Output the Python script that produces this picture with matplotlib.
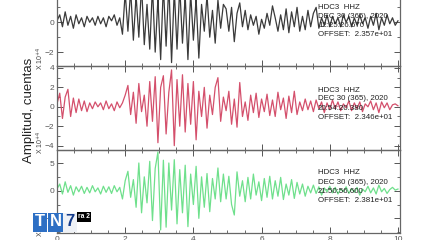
import numpy as np
import matplotlib
matplotlib.use("Agg")
import matplotlib.pyplot as plt
from matplotlib.ticker import MultipleLocator

plt.rcParams['font.family'] = ['Liberation Sans', 'DejaVu Sans']

# sample spacing of the read-off traces (s)
dt = 0.08

# amplitudes, x 10^4 counts
trace_a = [
    0.1, 0.5, -0.3, 0.7, -0.2, 0.4, -0.4, 0.5, -0.1, 0.3,
    -0.3, 0.4, 0.0, 0.3, -0.2, 0.4, -0.1, 0.3, -0.3, 0.4,
    0.1, 0.5, -0.2, 0.3, -0.8, 2.0, -0.6, 2.2, -1.2, 1.8,
    -1.0, 2.5, -1.5, 1.2, -1.8, 2.4, -2.0, 1.6, -2.5, 2.5,
    -1.6, 2.6, -2.7, 2.2, -1.8, 2.4, -1.4, 1.8, -2.5, 2.0,
    -1.2, 1.6, -2.4, 1.2, -0.6, 1.8, -1.0, 0.8, -1.4, 1.5,
    -0.4, 1.2, 0.9, -0.6, 1.0, -1.3, 0.6, 1.3, -0.3, 0.8,
    -0.5, 0.5, -0.2, 0.4, -0.8, 0.2, -0.4, 0.6, -0.2, 1.1,
    0.3, -0.6, 0.5, -0.5, 0.9, -0.7, 0.7, -0.3, 1.0, -0.6,
    0.4, -0.5, 0.8, -0.3, 0.6, 1.0, -0.4, 0.3, -0.2, 0.5,
    -0.3, 0.4, -0.1, 0.3, -0.3, 0.5, 0.0, 0.4, -0.3, 0.3,
    -0.2, 0.5, -0.1, 0.3, -0.4, 0.4, -0.2, 0.6, -0.5, 0.3,
    -0.2, 0.5, -0.1, 0.3, -0.2, 0.1,
]
trace_b = [
    0.3, 1.4, -1.2, 1.0, 1.8, -1.0, 0.9, -0.6, 0.8, -0.4,
    0.6, -0.5, 0.4, -0.2, 0.5, 0.0, 0.4, -0.3, 0.6, -0.2,
    0.3, -0.4, 0.5, -0.1, 0.4, 1.2, 2.2, -0.8, 1.5, -1.7,
    2.4, -0.5, 1.2, -2.0, 2.6, -1.5, 3.1, -3.7, 2.0, 3.2,
    -2.8, 1.5, 3.8, -4.0, 2.8, -2.0, 3.3, -2.6, 2.4, -1.8,
    2.6, -3.4, 1.6, -1.0, 2.0, -2.2, 1.2, -0.8, 2.0, 3.0,
    -1.5, 1.0, -0.4, 1.6, -1.8, 0.8, -2.1, 2.5, -1.0, 0.5,
    -1.4, 1.2, -0.6, 1.4, -1.1, 0.8, -0.5, 1.3, -0.9, 0.7,
    -1.0, 1.5, -0.3, 0.9, -1.2, 1.1, -0.6, 1.6, -0.8, 0.5,
    -0.4, 0.8, -0.3, 0.6, -0.5, 0.7, -0.2, 0.5, -0.6, 0.4,
    -0.3, 0.7, -0.2, 0.5, -0.4, 0.3, -0.1, 0.6, -0.4, 0.4,
    -0.2, 0.5, -0.5, 0.3, 0.0, 0.6, -0.3, 0.4, -0.6, 0.5,
    -0.1, 0.4, -0.3, 0.2, 0.3, 0.1,
]
trace_c = [
    0.3, 1.2, -0.6, 1.6, -0.3, 0.9, -0.8, 0.7, -0.2, 0.8,
    -0.5, 0.6, -0.4, 0.9, -0.2, 0.5, -0.6, 0.8, -0.3, 0.7,
    -0.5, 0.9, -0.2, 0.6, -1.5, 1.8, 3.5, -1.2, 2.0, -3.0,
    5.0, -4.0, 2.5, -2.2, 5.3, -5.4, 4.0, 7.0, -7.1, 5.5,
    -6.6, 5.0, -3.5, 5.6, -6.0, 3.8, -4.0, 4.6, -6.5, 3.0,
    -2.5, 4.4, -5.0, 2.5, -3.0, 3.1, -3.8, 2.2, -1.5, 4.1,
    -2.0, 3.0, -1.5, 2.6, -2.5, -4.4, 3.4, -1.0, 1.8, -2.0,
    2.4, -1.5, 3.0, -0.8, 1.6, -1.8, 2.2, -1.2, 2.6, -1.5,
    1.8, -1.0, 2.4, -1.6, 1.2, -0.8, 2.0, -1.4, 1.5, -0.6,
    1.2, -1.0, 0.8, -0.4, 1.0, -0.5, 0.7, -0.8, 0.5, -0.2,
    0.8, -0.4, 0.6, -0.6, 0.3, -0.2, 0.7, -0.5, 0.4, -0.3,
    0.6, -0.8, 0.3, -0.2, 0.8, -0.4, 0.5, -0.6, 1.0, -0.2,
    0.4, -0.5, 0.2, 0.6, 0.1, 0.3,
]
start_times = ["12:25:26.670", "20:54:20.380", "21:50:56.600"]
offsets = ["2.357e+01", "2.346e+01", "2.381e+01"]
station = "HDC3  HHZ"
date_str = "DEC 30 (365), 2020"

colors = ["#3a3a3a", "#d4506c", "#6fe08c"]
ylims = [(-2.93, 2.7), (-4.45, 4.2), (-7.65, 7.35)]
majors = [2, 2, 5]
# axes boxes in pixels from the top of the 426x240 picture
boxes = [(-18, 66), (66, 150), (150, 233)]
text_rows = [[7.5, 16.5, 25.5, 34.5], [90, 99, 108, 117], [173, 182, 191.5, 200.5]]
W, H = 426, 240

fig = plt.figure(figsize=(4.26, 2.40), dpi=100)
traces = [trace_a, trace_b, trace_c]
for i, tr in enumerate(traces):
    top, bot = boxes[i]
    ax = fig.add_axes([57 / W, 1 - bot / H, 343 / W, (bot - top) / H])
    t = np.arange(len(tr)) * dt
    ax.plot(t, tr, color=colors[i], lw=0.9)
    ax.set_xlim(0, 10.06)
    ax.set_ylim(*ylims[i])
    ax.xaxis.set_major_locator(MultipleLocator(2))
    ax.xaxis.set_minor_locator(MultipleLocator(0.5))
    ax.yaxis.set_major_locator(MultipleLocator(majors[i]))
    ax.yaxis.set_minor_locator(MultipleLocator(majors[i] / 2))
    ax.tick_params(which='both', direction='in', top=True, right=True,
                   colors='#555555', labelsize=6, pad=2)
    ax.tick_params(which='major', length=4, width=0.7)
    ax.tick_params(which='minor', length=2, width=0.6)
    for sp in ax.spines.values():
        sp.set_color('#666666')
        sp.set_linewidth(0.9)
    if i < 2:
        ax.tick_params(labelbottom=False)
    ax.set_facecolor('none')

    # station block
    lines = [station, date_str, start_times[i], "OFFSET:  " + offsets[i]]
    for y, s in zip(text_rows[i], lines):
        fig.text(318 / W, 1 - y / H, s, fontsize=5.7, va='center', ha='left',
                 color='#222222')

    # exponent label
    fig.text(40 / W, 1 - (bot - 8) / H, "X 10$^{+4}$", rotation=90,
             fontsize=5, va='center', ha='center', color='#444444')

fig.text(29 / W, 1 - 110 / H, "Amplitud, cuentas", rotation=90,
         fontsize=9.5, va='center', ha='center', color='#222222')

# channel logo in the corner
logo = dict(fontsize=12, fontweight='bold', va='center', ha='center', zorder=10)
fig.text(40 / W, 1 - 222 / H, "T", color='white',
         bbox=dict(boxstyle='square,pad=0.12', fc='#2d6fc4', ec='none'), **logo)
fig.text(56 / W, 1 - 222 / H, "N", color='white',
         bbox=dict(boxstyle='square,pad=0.12', fc='#2d6fc4', ec='none'), **logo)
fig.text(70 / W, 1 - 222 / H, "7", color='#123a8a',
         bbox=dict(boxstyle='square,pad=0.12', fc='#eef1f6', ec='none'), **logo)
fig.text(84 / W, 1 - 217 / H, "ra 2", fontsize=4.8, fontweight='bold', color='white',
         va='center', ha='center', zorder=10,
         bbox=dict(boxstyle='square,pad=0.2', fc='black', ec='none'))

fig.savefig("out.png", dpi=100)
